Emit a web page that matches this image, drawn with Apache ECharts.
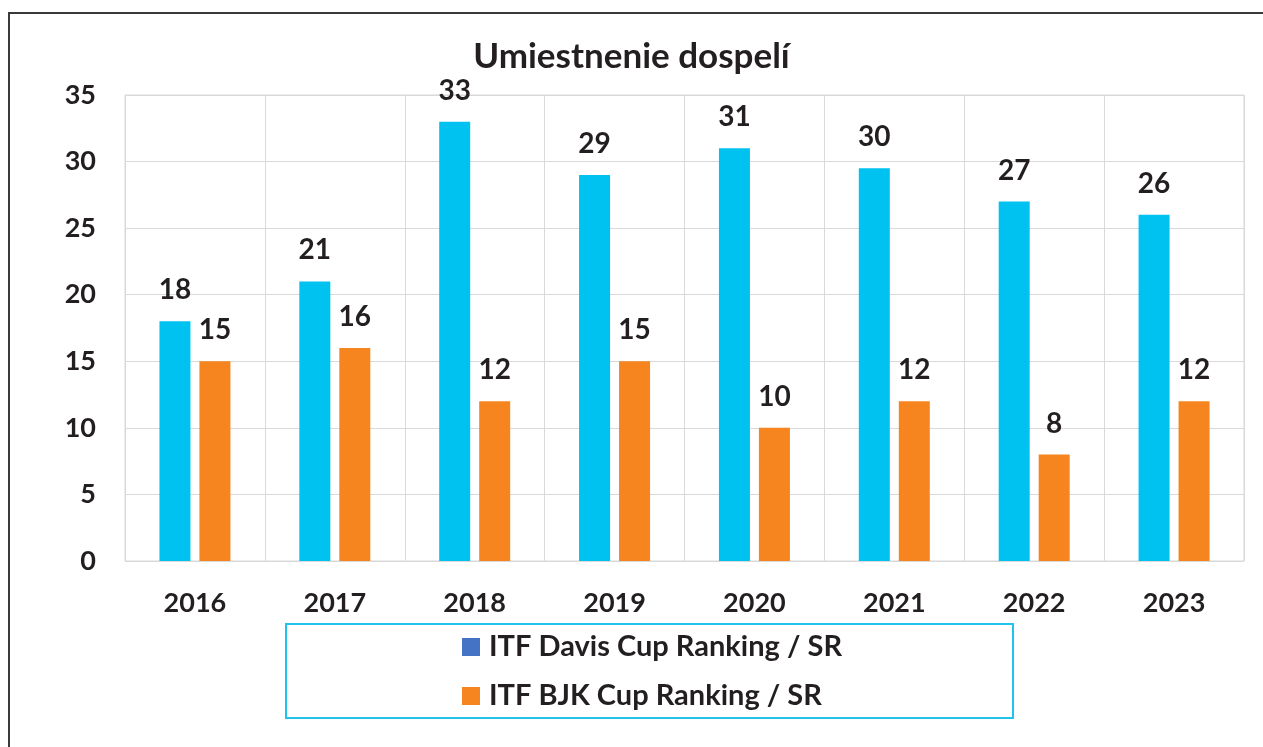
<!DOCTYPE html>
<html>
<head>
<meta charset="utf-8">
<script src="https://cdn.jsdelivr.net/npm/echarts@6/dist/echarts.min.js"></script>
<style>
  html, body { margin: 0; padding: 0; background: #fff; }
  #main { width: 1263px; height: 747px; }
</style>
</head>
<body>
<div id="main"></div>
<script>
// rok
var years = ['2016', '2017', '2018', '2019', '2020', '2021', '2022', '2023'];
// umiestnenie
var davisCup = [18, 21, 33, 29, 31, 29.5, 27, 26];
var bjkCup = [15, 16, 12, 15, 10, 12, 8, 12];
var yTicks = [0, 5, 10, 15, 20, 25, 30, 35];

var chart = echarts.init(document.getElementById('main'));
var textColor = '#231f20';
var font = 'Lato';

var option = {
  backgroundColor: '#fff',
  animation: false,
  title: {
    text: 'Umiestnenie dospelí',
    left: 'center',
    top: 34,
    textStyle: { fontFamily: font, fontWeight: 'bold', fontSize: 35, color: textColor }
  },
  graphic: [
    { type: 'rect', shape: { x: 9, y: 13, width: 1400, height: 900 },
      style: { fill: 'none', stroke: '#3a3a3a', lineWidth: 2 }, silent: true },
    { type: 'rect', shape: { x: 286, y: 624, width: 727, height: 94 },
      style: { fill: 'none', stroke: '#1fc3ee', lineWidth: 2 }, silent: true }
  ],
  legend: {
    orient: 'vertical',
    left: 462,
    top: 632,
    padding: 0,
    itemWidth: 18,
    itemHeight: 18,
    itemGap: 19,
    icon: 'rect',
    textStyle: { fontFamily: font, fontWeight: 'bold', fontSize: 29, lineHeight: 30, color: textColor, padding: [0, 0, 0, 4] },
    data: [
      { name: 'ITF Davis Cup Ranking / SR', itemStyle: { color: '#4472c4' } },
      { name: 'ITF BJK Cup Ranking / SR' }
    ]
  },
  grid: {
    left: 125, right: 19, top: 95, bottom: 186,
    show: true, borderColor: '#d9d9d9', borderWidth: 1
  },
  xAxis: {
    type: 'category',
    data: years,
    axisLine: { show: false },
    axisTick: { show: false },
    splitLine: { show: true, lineStyle: { color: '#d9d9d9', width: 1 } },
    axisLabel: { margin: 29, fontFamily: font, fontWeight: 'bold', fontSize: 27, color: textColor }
  },
  yAxis: {
    type: 'value',
    min: yTicks[0],
    max: yTicks[yTicks.length - 1],
    interval: 5,
    axisLine: { show: false },
    axisTick: { show: false },
    splitLine: { lineStyle: { color: '#d9d9d9', width: 1 } },
    axisLabel: { margin: 29, fontFamily: font, fontWeight: 'bold', fontSize: 27, color: textColor }
  },
  series: [
    {
      name: 'ITF Davis Cup Ranking / SR',
      type: 'bar',
      data: davisCup,
      barWidth: 31,
      barGap: '29%',
      itemStyle: { color: '#00c2f0' },
      label: {
        show: true, position: 'top', distance: 17,
        formatter: function (p) { return Math.round(p.value); },
        fontFamily: font, fontWeight: 'bold', fontSize: 28, color: textColor
      }
    },
    {
      name: 'ITF BJK Cup Ranking / SR',
      type: 'bar',
      data: bjkCup,
      barWidth: 31,
      itemStyle: { color: '#f7851f' },
      label: {
        show: true, position: 'top', distance: 17,
        formatter: function (p) { return Math.round(p.value); },
        fontFamily: font, fontWeight: 'bold', fontSize: 28, color: textColor
      }
    }
  ]
};

chart.setOption(option);
</script>
</body>
</html>
